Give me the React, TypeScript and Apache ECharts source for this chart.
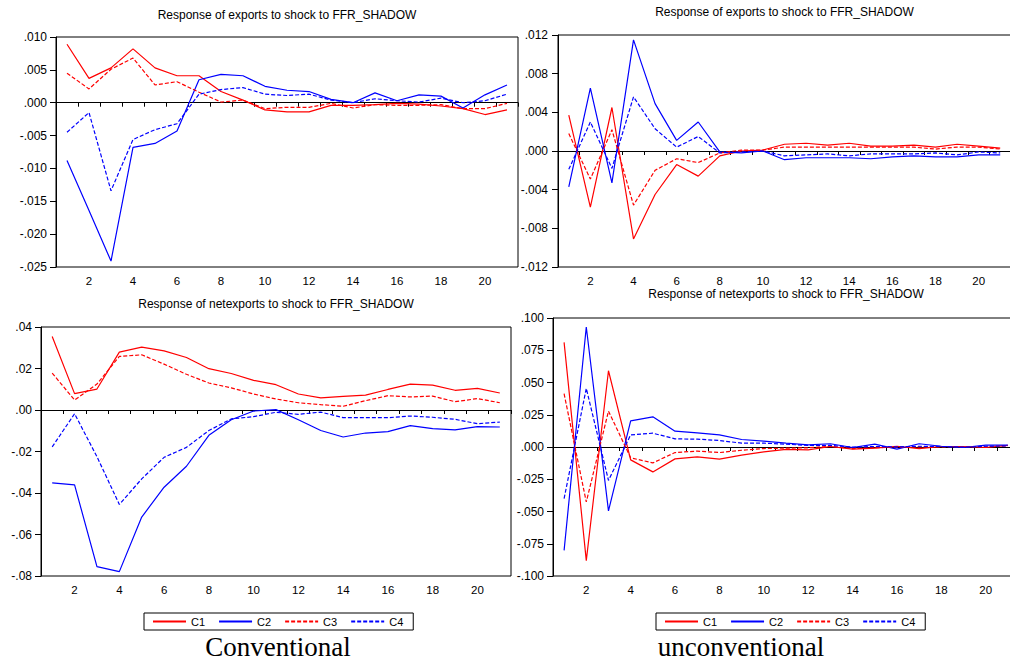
import React, { useEffect, useRef } from "react";
import * as echarts from "echarts";

const periods = Array.from({ length: 21 }, (_, i) => String(i + 1));
const seriesNames = ["C1", "C2", "C3", "C4"];

// Top-left: exports, conventional
const expConvC1 = [0.0089, 0.0037, 0.0053, 0.0082, 0.0053, 0.0041, 0.0041, 0.0017, 0.0004, -0.0011, -0.0014, -0.0014, -0.0004, -0.0004, -0.0003, -0.0001, -0.0002, -0.0005, -0.0009, -0.0018, -0.0011];
const expConvC2 = [-0.0088, -0.0164, -0.0241, -0.0068, -0.0062, -0.0043, 0.0035, 0.0043, 0.0041, 0.0025, 0.0019, 0.0017, 0.0005, 0.0, 0.0015, 0.0003, 0.0012, 0.001, -0.0008, 0.0012, 0.0027];
const expConvC3 = [0.0045, 0.0021, 0.0051, 0.0068, 0.0027, 0.0032, 0.0016, 0.0001, 0.0004, -0.0009, -0.0007, -0.0007, -0.0001, -0.0008, -0.0003, -0.0004, -0.0004, -0.0003, -0.0009, -0.0009, -0.0001];
const expConvC4 = [-0.0045, -0.0015, -0.0134, -0.0056, -0.0041, -0.0032, 0.0013, 0.002, 0.0023, 0.0013, 0.0011, 0.0013, 0.0004, 0.0, 0.0006, 0.0003, 0.0001, 0.0007, 0.0, 0.0003, 0.0013];

// Top-right: exports, unconventional
const expUncC1 = [0.0037, -0.0058, 0.0045, -0.0091, -0.0045, -0.0014, -0.0026, -0.0005, 0.0, 0.0001, 0.0007, 0.0008, 0.0006, 0.0008, 0.0005, 0.0005, 0.0006, 0.0004, 0.0007, 0.0005, 0.0003];
const expUncC2 = [-0.0037, 0.0065, -0.0033, 0.0115, 0.0049, 0.0011, 0.003, -0.0001, -0.0002, 0.0, -0.0009, -0.0007, -0.0007, -0.0007, -0.0008, -0.0006, -0.0005, -0.0006, -0.0006, -0.0004, -0.0004];
const expUncC3 = [0.0018, -0.0029, 0.0022, -0.0056, -0.002, -0.0008, -0.0012, -0.0002, 0.0001, 0.0001, 0.0004, 0.0004, 0.0004, 0.0004, 0.0004, 0.0004, 0.0004, 0.0002, 0.0004, 0.0004, 0.0002];
const expUncC4 = [-0.0019, 0.003, -0.0018, 0.0056, 0.0023, 0.0004, 0.0015, -0.0002, -0.0001, 0.0, -0.0005, -0.0004, -0.0003, -0.0005, -0.0003, -0.0003, -0.0003, -0.0002, -0.0004, -0.0001, -0.0002];

// Bottom-left: netexports, conventional
const netConvC1 = [0.0354, 0.0079, 0.0101, 0.0279, 0.0303, 0.0285, 0.0253, 0.0199, 0.0176, 0.0143, 0.0122, 0.0077, 0.0058, 0.0066, 0.0072, 0.0099, 0.0125, 0.012, 0.0095, 0.0104, 0.0082];
const netConvC2 = [-0.0351, -0.0361, -0.0755, -0.0779, -0.0516, -0.0372, -0.0271, -0.0122, -0.0047, -0.0005, 0.0002, -0.0047, -0.0099, -0.013, -0.0111, -0.0104, -0.0075, -0.009, -0.0096, -0.008, -0.0082];
const netConvC3 = [0.0178, 0.0048, 0.0125, 0.0258, 0.0266, 0.0221, 0.0172, 0.013, 0.0107, 0.0077, 0.0053, 0.0035, 0.0026, 0.0018, 0.0045, 0.0069, 0.0063, 0.0067, 0.004, 0.0055, 0.0035];
const netConvC4 = [-0.0178, -0.0018, -0.0225, -0.0455, -0.0332, -0.0228, -0.018, -0.0099, -0.0043, -0.0032, -0.0011, -0.0021, -0.001, -0.0037, -0.0037, -0.0037, -0.0029, -0.0035, -0.0045, -0.0066, -0.0058];

// Bottom-right: netexports, unconventional
const netUncC1 = [0.0811, -0.0881, 0.0591, -0.01, -0.0193, -0.0092, -0.0076, -0.0094, -0.0063, -0.0038, -0.0019, -0.0022, 0.0004, -0.0017, -0.0009, 0.0006, -0.0012, 0.0004, 0.0004, -0.0004, 0.0012];
const netUncC2 = [-0.0801, 0.093, -0.0495, 0.0203, 0.0234, 0.0123, 0.011, 0.0094, 0.0058, 0.0045, 0.003, 0.0017, 0.0025, -0.0004, 0.0022, -0.0017, 0.0025, 0.0006, -0.0004, 0.0014, 0.0014];
const netUncC3 = [0.0413, -0.0426, 0.0278, -0.0084, -0.0123, -0.0043, -0.0032, -0.0043, -0.0025, -0.0012, -0.0009, -0.0006, 0.0006, -0.0012, -0.0006, -0.0001, 0.0001, 0.0001, 0.0004, 0.0001, 0.0009];
const netUncC4 = [-0.04, 0.0454, -0.0259, 0.0094, 0.0107, 0.0063, 0.0061, 0.005, 0.003, 0.003, 0.0022, 0.0012, 0.0012, -0.0001, 0.0004, 0.0001, 0.0006, 0.0004, -0.0001, 0.0006, 0.0009];

const titleExports = "Response of exports to shock to FFR_SHADOW";
const titleNet = "Response of netexports to shock to FFR_SHADOW";
const captionLeft = "Conventional";
const captionRight = "unconventional";

const RED = "#ff0000";
const BLUE = "#0000ff";
const SANS = "'Liberation Sans', Arial, sans-serif";

type Panel = {
  grid: { left: number; top: number; width: number; height: number };
  min: number;
  max: number;
  interval: number;
  decimals: number;
  labelMargin: number;
  data: number[][];
  title: string;
  titleY: number;
};

const panels: Panel[] = [
  { grid: { left: 56, top: 37, width: 462, height: 230 }, min: -0.025, max: 0.01, interval: 0.005, decimals: 3, labelMargin: 9,
    data: [expConvC1, expConvC2, expConvC3, expConvC4], title: titleExports, titleY: 15 },
  { grid: { left: 558, top: 35, width: 453, height: 232 }, min: -0.012, max: 0.012, interval: 0.004, decimals: 3, labelMargin: 10,
    data: [expUncC1, expUncC2, expUncC3, expUncC4], title: titleExports, titleY: 12 },
  { grid: { left: 41, top: 327, width: 470, height: 249 }, min: -0.08, max: 0.04, interval: 0.02, decimals: 2, labelMargin: 9,
    data: [netConvC1, netConvC2, netConvC3, netConvC4], title: titleNet, titleY: 304 },
  { grid: { left: 553, top: 318, width: 466, height: 258 }, min: -0.1, max: 0.1, interval: 0.025, decimals: 3, labelMargin: 9,
    data: [netUncC1, netUncC2, netUncC3, netUncC4], title: titleNet, titleY: 294 },
];

const styles = [
  { color: RED, type: "solid" },
  { color: BLUE, type: "solid" },
  { color: RED, type: [4, 2] },
  { color: BLUE, type: [4, 2] },
];

function fmt(v: number, d: number) {
  const s = Math.abs(v) < 1e-12 ? (0).toFixed(d) : v.toFixed(d);
  return s.replace("0.", ".");
}

export default function App() {
  const ref = useRef<HTMLDivElement>(null);
  useEffect(() => {
    if (!ref.current) return;
    const chart = echarts.init(ref.current, undefined, { renderer: "svg" });
    const grids: any[] = [];
    const xAxes: any[] = [];
    const yAxes: any[] = [];
    const series: any[] = [];
    const graphics: any[] = [];
    panels.forEach((p, pi) => {
      grids.push({
        ...p.grid,
        show: true,
        borderColor: "#000",
        borderWidth: 1,
        backgroundColor: "transparent",
        containLabel: false,
        outerBoundsMode: "none",
      });
      xAxes.push({
        type: "category",
        gridIndex: pi,
        data: periods,
        boundaryGap: true,
        axisLine: { show: true, lineStyle: { color: "#000", width: 1 } },
        axisTick: { show: true, interval: 0, length: 4, lineStyle: { color: "#000" } },
        axisLabel: {
          interval: (index: number) => index % 2 === 1,
          color: "#000",
          fontSize: 11.5,
          fontFamily: SANS,
          margin: 8,
        },
        splitLine: { show: false },
      });
      yAxes.push({
        type: "value",
        gridIndex: pi,
        min: p.min,
        max: p.max,
        interval: p.interval,
        axisLine: { show: true, lineStyle: { color: "#000", width: 1 } },
        axisTick: { show: true, length: 6, lineStyle: { color: "#000" } },
        axisLabel: {
          color: "#000",
          fontSize: 12,
          fontFamily: SANS,
          margin: p.labelMargin,
          formatter: (v: number) => fmt(v, p.decimals),
        },
        splitLine: { show: false },
      });
      p.data.forEach((arr, si) => {
        series.push({
          type: "line",
          name: seriesNames[si],
          xAxisIndex: pi,
          yAxisIndex: pi,
          data: arr,
          symbol: "none",
          showSymbol: false,
          lineStyle: { color: styles[si].color, width: 1.2, type: styles[si].type },
          itemStyle: { color: styles[si].color },
          silent: true,
          z: 3,
          markLine:
            si === 0
              ? {
                  silent: true,
                  symbol: ["none", "none"],
                  label: { show: false },
                  lineStyle: { color: "#000", width: 1, type: "solid" },
                  data: [{ yAxis: 0 }],
                  z: 2,
                }
              : undefined,
        });
      });
      graphics.push({
        type: "text",
        x: p.grid.left + p.grid.width / 2,
        y: p.titleY,
        style: {
          text: p.title,
          fill: "#000",
          font: `12px ${SANS}`,
          textAlign: "center",
          textVerticalAlign: "middle",
        },
      });
    });
    graphics.push({
      type: "text",
      x: 278,
      y: 647,
      style: { text: captionLeft, fill: "#000", font: "27px 'Liberation Serif', 'Times New Roman', serif", textAlign: "center", textVerticalAlign: "middle" },
    });
    graphics.push({
      type: "text",
      x: 741,
      y: 647,
      style: { text: captionRight, fill: "#000", font: "27px 'Liberation Serif', 'Times New Roman', serif", textAlign: "center", textVerticalAlign: "middle" },
    });
    const legendBase = {
      orient: "horizontal",
      data: seriesNames,
      itemWidth: 33,
      itemHeight: 12,
      itemGap: 13,
      padding: [3, 10, 3, 8],
      borderColor: "#000",
      borderWidth: 1,
      selectedMode: false,
      itemStyle: { opacity: 0 },
      textStyle: { color: "#000", fontSize: 11, fontFamily: SANS },
    };
    chart.setOption({
      animation: false,
      backgroundColor: "#fff",
      grid: grids,
      xAxis: xAxes,
      yAxis: yAxes,
      series,
      legend: [
        { ...legendBase, left: 144, top: 613 },
        { ...legendBase, left: 656, top: 613 },
      ],
      graphic: graphics,
    });
    return () => chart.dispose();
  }, []);
  return (
    <div
      ref={ref}
      style={{ position: "absolute", left: 0, top: 0, width: 1010, height: 663 }}
    />
  );
}
